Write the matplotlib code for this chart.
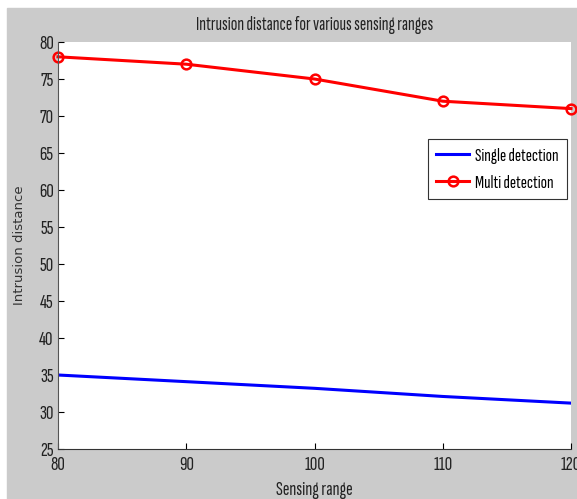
import matplotlib
matplotlib.use("Agg")
import matplotlib.pyplot as plt
from matplotlib.patches import Rectangle

sensing_range = [80, 90, 100, 110, 120]
single_detection = [35.0, 34.1, 33.2, 32.1, 31.2]
multi_detection = [78, 77, 75, 72, 71]

narrow = ['Sofia Sans Extra Condensed', 'Archivo Narrow', 'DejaVu Sans']
W, H = 577, 499

fig = plt.figure(figsize=(W / 100, H / 100), dpi=100, facecolor='white')
# gray matlab window background (thin white strip top/left)
fig.patches.append(Rectangle((7 / W, 0), 1, (H - 8) / H,
                             transform=fig.transFigure, color='#cbcbcb', zorder=-10))

ax = fig.add_axes([58 / W, (H - 449) / H, (571 - 58) / W, (449 - 42) / H])
ax.set_facecolor('white')

ax.plot(sensing_range, single_detection, color='#0000ff', lw=2.2, label='Single detection')
ax.plot(sensing_range, multi_detection, color='#ff0000', lw=2.2, marker='o', ms=7,
        mfc='none', mew=1.8, label='Multi detection', clip_on=False)

ax.set_xlim(80, 120)
ax.set_ylim(25, 80)
ax.set_xticks(sensing_range)
ax.set_yticks(range(25, 81, 5))
ax.tick_params(direction='in', length=4, width=0.8, labelsize=15, pad=3)
ax.tick_params(axis='x', pad=5)
for lab in ax.get_xticklabels() + ax.get_yticklabels():
    lab.set_family(narrow)
    lab.set_color('#222222')
ax.spines['top'].set_visible(False)
ax.spines['right'].set_visible(False)
ax.spines['left'].set_color('#555555')
ax.spines['bottom'].set_color('#333333')

ax.set_title('Intrusion distance for various sensing ranges', family=narrow,
             fontsize=14, pad=9, color='#222222')
ax.set_xlabel('Sensing range', family=narrow, fontsize=14.5, labelpad=5, color='#222222')
ax.set_ylabel('Intrusion distance', family='DejaVu Sans', fontsize=9.5, labelpad=9,
              color='#333333')

leg = ax.legend(loc='upper left', bbox_to_anchor=(428 / W, 1 - 139 / H),
                bbox_transform=fig.transFigure, borderaxespad=0,
                prop={'family': narrow, 'size': 13.5}, frameon=True, fancybox=False,
                handlelength=1.75, borderpad=0.45, labelspacing=0.6, handletextpad=0.3)
leg.get_frame().set_edgecolor('#333333')
leg.get_frame().set_linewidth(0.8)
leg.get_frame().set_alpha(1)

fig.savefig('out.png', dpi=100, facecolor=fig.get_facecolor())
